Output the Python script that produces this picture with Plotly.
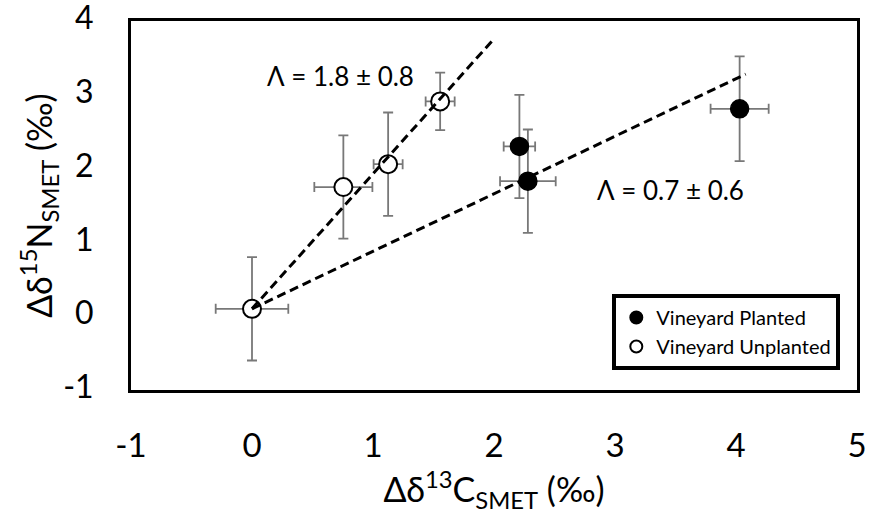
import plotly.graph_objects as go

# Vineyard Planted (filled)
planted_x = [2.21, 2.28, 4.03]
planted_y = [2.30, 1.83, 2.81]
planted_xerr = [0.13, 0.23, 0.24]
planted_yerr = [0.70, 0.70, 0.71]

# Vineyard Unplanted (open)
unplanted_x = [0.0, 0.755, 1.125, 1.555]
unplanted_y = [0.10, 1.75, 2.06, 2.91]
unplanted_xerr = [0.30, 0.24, 0.12, 0.12]
unplanted_yerr = [0.70, 0.70, 0.70, 0.39]

# Trend lines (endpoints)
fit_unplanted_x = [0.0, 1.99]
fit_unplanted_y = [0.10, 3.74]
fit_planted_x = [0.0, 4.08]
fit_planted_y = [0.10, 3.28]

x_ticks = [-1, 0, 1, 2, 3, 4, 5]
y_ticks = [-1, 0, 1, 2, 3, 4]

FONT = "Lato"
ERR = "#787878"

fig = go.Figure()

fig.add_trace(go.Scatter(
    x=planted_x, y=planted_y, mode="markers", name="Vineyard Planted",
    marker=dict(size=18, color="black", line=dict(color="black", width=1.5)),
    error_x=dict(type="data", array=planted_xerr, color=ERR, thickness=1.8, width=5),
    error_y=dict(type="data", array=planted_yerr, color=ERR, thickness=1.8, width=5),
))
fig.add_trace(go.Scatter(
    x=unplanted_x, y=unplanted_y, mode="markers", name="Vineyard Unplanted",
    marker=dict(size=18, color="white", line=dict(color="black", width=2)),
    error_x=dict(type="data", array=unplanted_xerr, color=ERR, thickness=1.8, width=5),
    error_y=dict(type="data", array=unplanted_yerr, color=ERR, thickness=1.8, width=5),
))
fig.add_trace(go.Scatter(
    x=fit_unplanted_x, y=fit_unplanted_y, mode="lines", showlegend=False,
    line=dict(color="black", width=3, dash="9px,5px"), hoverinfo="skip",
))
fig.add_trace(go.Scatter(
    x=fit_planted_x, y=fit_planted_y, mode="lines", showlegend=False,
    line=dict(color="black", width=3, dash="9px,5px"), hoverinfo="skip",
))

fig.add_annotation(x=0.73, y=3.25, text="Λ = 1.8 ± 0.8", showarrow=False,
                   font=dict(family=FONT, size=26, color="black"))
fig.add_annotation(x=3.455, y=1.71, text="Λ = 0.7 ± 0.6", showarrow=False,
                   font=dict(family=FONT, size=26, color="black"))

fig.update_layout(
    width=869, height=524,
    margin=dict(l=131, r=12, t=21, b=134),
    paper_bgcolor="white", plot_bgcolor="white",
    font=dict(family=FONT, color="black"),
    showlegend=True,
    legend=dict(
        x=0.977, y=0.054, xanchor="right", yanchor="bottom",
        bgcolor="white", bordercolor="black", borderwidth=4,
        font=dict(family=FONT, size=20, color="black"),
        itemsizing="constant", tracegroupgap=0, itemwidth=30,
    ),
    xaxis=dict(
        range=[-1, 5], tickvals=x_ticks, ticktext=[str(v) for v in x_ticks],
        showgrid=False, zeroline=False, ticks="", showline=True, mirror=True,
        linecolor="black", linewidth=3, automargin=False,
        ticklabeloverflow="allow",
        tickfont=dict(family=FONT, size=33, color="black"), ticklabelstandoff=24,
        title=dict(text="Δδ<sup>13</sup>C<sub>SMET</sub> (‰)",
                   font=dict(family=FONT, size=34, color="black"), standoff=16),
    ),
    yaxis=dict(
        range=[-1, 4], tickvals=y_ticks, ticktext=[str(v) for v in y_ticks],
        showgrid=False, zeroline=False, ticks="", showline=True, mirror=True,
        linecolor="black", linewidth=3, automargin=False,
        ticklabeloverflow="allow", ticklabelshift=-3,
        tickfont=dict(family=FONT, size=32, color="black"), ticklabelstandoff=28,
        title=dict(text="Δδ<sup>15</sup>N<sub>SMET</sub> (‰)",
                   font=dict(family=FONT, size=34, color="black"), standoff=1),
    ),
)

fig.write_html("out.html", config={"displayModeBar": False},
               post_script="document.body.style.margin='0';")
